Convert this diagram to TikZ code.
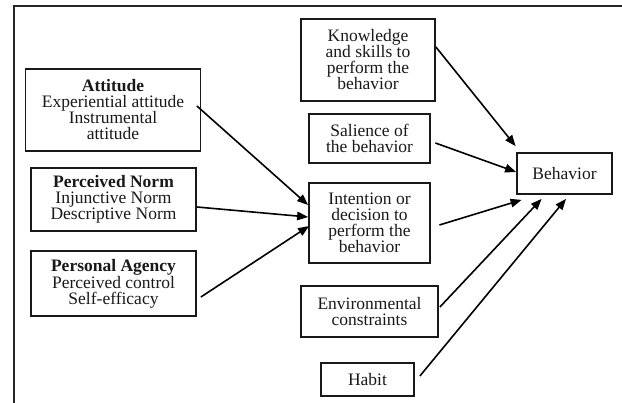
\documentclass[tikz,border=0pt]{standalone}
\usepackage{fontspec}
\setmainfont{Liberation Serif}
\usetikzlibrary{arrows.meta,calc}
\begin{document}
\begin{tikzpicture}[x=1pt,y=-1pt,
  box/.style={draw=black!90,line width=1.8pt,inner sep=0pt,align=center,
    font=\fontsize{17.5}{16}\selectfont,text=black!90},
  arr/.style={line width=1.6pt,draw=black,-{Triangle[length=11pt,width=8.5pt]}},
  frame/.style={line width=2.8pt,draw=black!85}]
\useasboundingbox (0,0) rectangle (622,403);
\coordinate (fl) at (14,403);
\coordinate (fc) at (14,6);
\coordinate (fr) at (622,6);
\draw[frame] (fl) -- (fc) -- (fr);
\node[box,minimum width=175pt,minimum height=82pt] (att) at (113,110)
  {\textbf{Attitude}\\Experiential attitude\\Instrumental\\attitude};
\node[box,minimum width=165pt,minimum height=63pt] (pn) at (113.5,199.5)
  {\textbf{Perceived Norm}\\Injunctive Norm\\Descriptive Norm};
\node[box,minimum width=165pt,minimum height=65pt] (pa) at (113.5,283.5)
  {\textbf{Personal Agency}\\Perceived control\\Self-efficacy};
\node[box,minimum width=134pt,minimum height=82pt] (kn) at (368,60)
  {Knowledge\\and skills to\\perform the\\behavior};
\node[box,minimum width=121pt,minimum height=49pt] (sal) at (369.5,138.5)
  {Salience of\\the behavior};
\node[box,minimum width=121pt,minimum height=80pt] (int) at (369.5,223)
  {Intention or\\decision to\\perform the\\behavior};
\node[box,minimum width=95pt,minimum height=41pt] (beh) at (564.5,173.5)
  {Behavior};
\node[box,minimum width=137pt,minimum height=51pt] (env) at (369.5,311.5)
  {Environmental\\constraints};
\node[box,minimum width=93pt,minimum height=33pt] (hab) at (367.5,379.5)
  {Habit};
\draw[arr] ($(att.east)+(-4.5,-4)$) -- ($(int.west)+(0,-18)$);
\draw[arr] ($(pn.east)+(0,7.5)$) -- ($(int.west)+(0,-6)$);
\draw[arr] ($(pa.east)+(4,13.5)$) -- ($(int.west)+(1,3)$);
\draw[arr] ($(kn.east)+(0,-13)$) -- ($(beh.north west)+(-0.5,-6)$);
\draw[arr] ($(sal.east)+(4.5,4.5)$) -- ($(beh.west)+(0,-1.5)$);
\draw[arr] ($(int.east)+(8.5,2)$) -- ($(beh.south west)+(5.5,5)$);
\draw[arr] ($(env.east)+(1,-4.5)$) -- ($(beh.south west)+(25.5,4)$);
\draw[arr] ($(hab.east)+(5,-3.5)$) -- ($(beh.south)+(1.5,4)$);
\end{tikzpicture}
\end{document}
